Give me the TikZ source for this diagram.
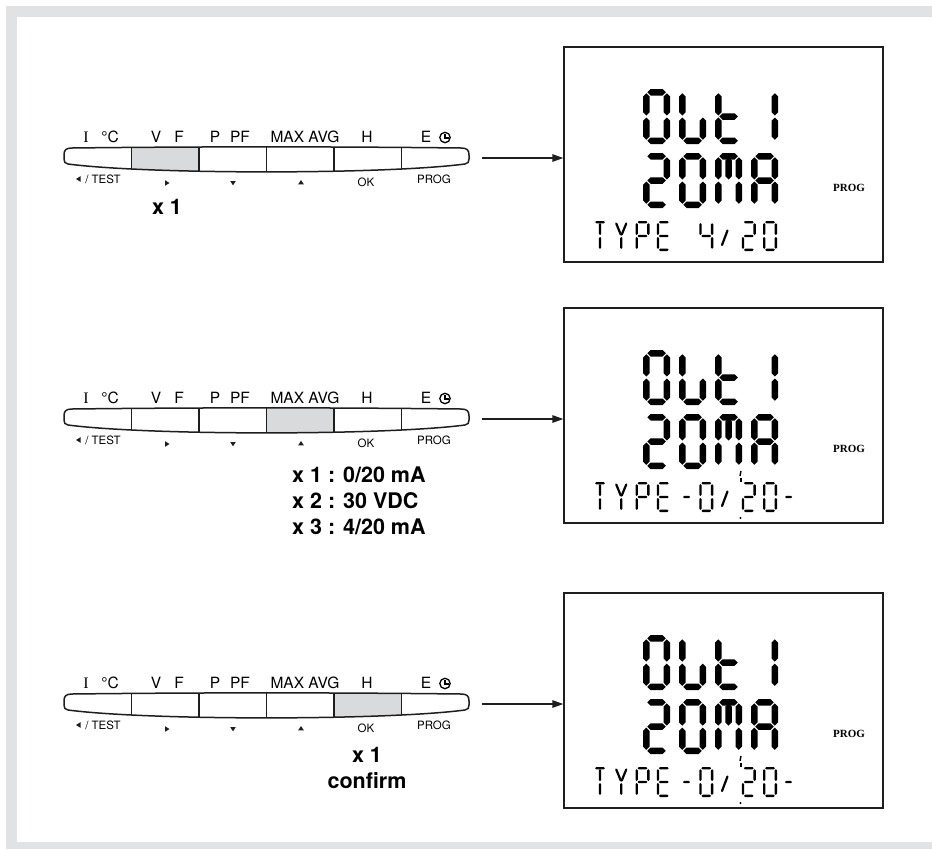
\documentclass[tikz,border=0pt]{standalone}
\usepackage{fontspec}
\setmainfont{TeX Gyre Heros}
\newfontfamily\serifface{Liberation Serif}
\usetikzlibrary{arrows.meta,calc,positioning}

\definecolor{framegray}{HTML}{E1E2E4}
\definecolor{keygray}{HTML}{D9DADB}
\definecolor{inkline}{HTML}{1E1E1E}

\tikzset{
  keyline/.style={line width=1.5pt, draw=inkline},
  toplbl/.style={font=\fontsize{15.5}{16}\selectfont, anchor=base, inner sep=0pt},
  serlbl/.style={font=\serifface\fontsize{16}{16}\selectfont, anchor=base, inner sep=0pt},
  sublbl/.style={font=\fontsize{11.5}{12}\selectfont, inner sep=0pt},
  presslbl/.style={font=\bfseries\fontsize{21.5}{22}\selectfont, anchor=base, inner sep=0pt},
  lcdbox/.style={draw=inkline, line width=1.4pt, minimum width=319pt, minimum height=215pt, inner sep=0pt},
  progtxt/.style={font=\serifface\bfseries\fontsize{11}{11}\selectfont, inner sep=0pt},
  flow/.style={line width=1.4pt, draw=inkline, -{Triangle[length=11pt,width=7.5pt]}},
  thinseg/.style={line width=2.2pt, line cap=round},
}

% lcd segments
\newcommand\hsg[4]{\fill ({#1},{#3}) -- ({#1+#4},{#3-#4}) -- ({#2-#4},{#3-#4}) -- ({#2},{#3}) -- ({#2-#4},{#3+#4}) -- ({#1+#4},{#3+#4}) -- cycle;}
\newcommand\vsg[4]{\fill ({#3},{#1}) -- ({#3+#4},{#1+#4}) -- ({#3+#4},{#2-#4}) -- ({#3},{#2}) -- ({#3-#4},{#2-#4}) -- ({#3-#4},{#1+#4}) -- cycle;}
\newcommand\lcdcell[5]{\pgfmathsetmacro\lcx{#1}\pgfmathsetmacro\lcy{#2}\def\lcw{#3}\def\lch{#4}\def\lct{#5}}
\newcommand\sgA{\hsg{\lcx+\lct/2+1}{\lcx+\lcw-\lct/2-1}{\lcy+\lct/2}{\lct/2}}
\newcommand\sgB{\vsg{\lcy+\lct/2+1}{\lcy+\lch/2-1}{\lcx+\lcw-\lct/2}{\lct/2}}
\newcommand\sgC{\vsg{\lcy+\lch/2+1}{\lcy+\lch-\lct/2-1}{\lcx+\lcw-\lct/2}{\lct/2}}
\newcommand\sgD{\hsg{\lcx+\lct/2+1}{\lcx+\lcw-\lct/2-1}{\lcy+\lch-\lct/2}{\lct/2}}
\newcommand\sgE{\vsg{\lcy+\lch/2+1}{\lcy+\lch-\lct/2-1}{\lcx+\lct/2}{\lct/2}}
\newcommand\sgF{\vsg{\lcy+\lct/2+1}{\lcy+\lch/2-1}{\lcx+\lct/2}{\lct/2}}
\newcommand\sgG{\hsg{\lcx+\lct/2+1}{\lcx+\lcw-\lct/2-1}{\lcy+\lch/2}{\lct/2}}
\newcommand\sgI{\vsg{\lcy+\lct/2+1}{\lcy+\lch/2-1}{\lcx+\lcw/2}{\lct/2}}
\newcommand\sgL{\vsg{\lcy+\lch/2+1}{\lcy+\lch-\lct/2-1}{\lcx+\lcw/2}{\lct/2}}
\newcommand\slotx[1]{593+21.25*#1}

\newcommand\barshape[1]{#1 (72,148) .. controls (200,146.5) and (333,146.5) .. (461,148)
  .. controls (467,148) and (469,150) .. (469,155) -- (469,159)
  .. controls (469,162) and (468,163.5) .. (465,164)
  .. controls (385,174.5) and (148,174.5) .. (68,164)
  .. controls (65,163.5) and (64,162) .. (64,159) -- (64,155)
  .. controls (64,150) and (66,148) .. (72,148) -- cycle;}

\newcommand\keypad[2]{%
  \begin{scope}
    \barshape{\clip}
    \fill[keygray] ({64+67.5*(#1-1)},140) rectangle ({64+67.5*#1},180);
    \foreach \k in {1,...,5}
      \draw[keyline] ({64+67.5*\k},140) -- ({64+67.5*\k},180);
  \end{scope}
  \barshape{\draw[keyline]}
  \node[serlbl] (keyI#2) at (86,142) {I};
  \node[toplbl] (keyC#2) at (110,142) {°C};
  \node[toplbl] (keyV#2) at (156,142) {V};
  \node[toplbl] (keyF#2) at (179,142) {F};
  \node[toplbl] (keyP#2) at (215,142) {P};
  \node[toplbl] (keyPF#2) at (240,142) {PF};
  \node[toplbl] (keyMax#2) at (305,142) {MAX AVG};
  \node[toplbl] (keyH#2) at (367,142) {H};
  \node[toplbl] (keyE#2) at (426,142) {E};
  \draw[line width=1.3pt] (445,137.5) circle[radius=5.2];
  \draw[line width=1.3pt] (445,134) -- (445,138) -- (448.5,138);
  \fill[inkline] (76,179) -- (80.5,176.2) -- (80.5,181.8) -- cycle;
  \node[sublbl] (test#2) at (103,179) {/ TEST};
  \fill[inkline] (169.5,183) -- (165,180.2) -- (165,185.8) -- cycle;
  \fill[inkline] (233,185.3) -- (230.2,181) -- (235.8,181) -- cycle;
  \fill[inkline] (301,180) -- (298.2,184.3) -- (303.8,184.3) -- cycle;
  \node[sublbl] (ok#2) at (366,182) {OK};
  \node[sublbl] (keyprog#2) at (434,179) {PROG};
  \coordinate (out#2) at (482,158);
}

\newcommand\lcdhead[1]{%
  \node[lcdbox] (lcd#1) at (723.5,154.5) {};
  \lcdcell{643}{89}{27}{55}{6.5}\sgA\sgB\sgC\sgD\sgE\sgF
  \lcdcell{679}{89}{27}{55}{6.5}\sgF\sgE\sgD\sgC
  \lcdcell{715}{89}{27}{55}{6.5}\sgF\sgE\sgD\sgG
  \lcdcell{751}{89}{27}{55}{6.5}\sgB\sgC
  \lcdcell{643}{153}{27}{55}{6.5}\sgA\sgB\sgG\sgE\sgD
  \lcdcell{679}{153}{27}{55}{6.5}\sgA\sgB\sgC\sgD\sgE\sgF
  \lcdcell{715}{153}{27}{55}{6.5}\sgA\sgB\sgC\sgE\sgF\sgI
  \lcdcell{751}{153}{27}{55}{6.5}\sgA\sgB\sgC\sgE\sgF\sgG
  \node[progtxt] (prog#1) at (849,188) {PROG};
  % TYPE
  \lcdcell{\slotx{0}}{221}{14}{30}{2.4}\sgA\sgI\sgL
  \lcdcell{\slotx{1}}{221}{14}{30}{2.4}\sgL
  \draw[thinseg] ({\lcx+2},{\lcy+2.5}) -- ({\lcx+6.5},{\lcy+13.5});
  \draw[thinseg] ({\lcx+12},{\lcy+2.5}) -- ({\lcx+7.5},{\lcy+13.5});
  \lcdcell{\slotx{2}}{221}{14}{30}{2.4}\sgA\sgB\sgF\sgE\sgG
  \lcdcell{\slotx{3}}{221}{14}{30}{2.4}\sgA\sgF\sgE\sgD\sgG
}

\newcommand\lcdslash[1]{\lcdcell{\slotx{#1}}{221}{14}{30}{2.4}
  \draw[thinseg] ({\lcx+1.5},{\lcy+24}) -- ({\lcx+7},{\lcy+9.5});}

% second and third screen: "-0/20-"
\newcommand\typezero{%
  \hsg{683}{690}{236}{1.2}
  \lcdcell{\slotx{5}}{221}{14}{30}{2.4}\sgA\sgB\sgC\sgD\sgE\sgF
  \lcdslash{6}
  \lcdcell{\slotx{7}}{221}{14}{30}{2.4}\sgA\sgB\sgG\sgE\sgD
  \lcdcell{\slotx{8}}{221}{14}{30}{2.4}\sgA\sgB\sgC\sgD\sgE\sgF
  \hsg{785}{792}{236}{1.2}
  \draw[line width=1.4pt] (741,210) -- (740,215);
  \draw[line width=1.2pt] (741,217) -- (741,221);
  \fill (740.5,257) circle[radius=1.1];
}

\begin{document}
\begin{tikzpicture}[x=1pt,y=-1pt]
\useasboundingbox (0,0) rectangle (932,849);
\fill[white] (0,0) rectangle (932,849);
\fill[framegray] (6,6) rectangle (932,849);
\fill[white] (17,17) rectangle (932,842);

% row 1
\begin{scope}
  \keypad{2}{a}
  \lcdhead{a}
  \lcdcell{\slotx{5}}{221}{14}{30}{2.4}\sgF\sgB\sgG\sgC
  \lcdslash{6}
  \lcdcell{\slotx{7}}{221}{14}{30}{2.4}\sgA\sgB\sgG\sgE\sgD
  \lcdcell{\slotx{8}}{221}{14}{30}{2.4}\sgA\sgB\sgC\sgD\sgE\sgF
  \draw[flow] (outa) -- (outa -| lcda.west);
  \node[presslbl] (pressa) at (167,214) {x 1};
\end{scope}

% row 2
\begin{scope}[shift={(0,261)}]
  \keypad{4}{b}
  \lcdhead{b}
  \typezero
  \draw[flow] (outb) -- (outb -| lcdb.west);
  \node[presslbl, anchor=base west] (pressb) at (292,221) {x 1 : 0/20 mA};
  \node[presslbl, anchor=base west] (pressbb) at (292,247) {x 2 : 30 VDC};
  \node[presslbl, anchor=base west] (pressbc) at (292,273) {x 3 : 4/20 mA};
\end{scope}

% row 3
\begin{scope}[shift={(0,546)}]
  \keypad{5}{c}
  \lcdhead{c}
  \typezero
  \draw[flow] (outc) -- (outc -| lcdc.west);
  \node[presslbl] (pressc) at (367,216) {x 1};
  \node[presslbl] (confirmc) at (367,242) {confirm};
\end{scope}
\end{tikzpicture}
\end{document}
